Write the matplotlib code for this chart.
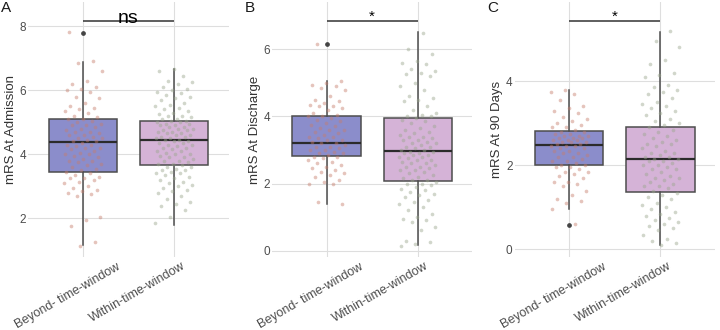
import numpy as np
import matplotlib
matplotlib.use("Agg")
import matplotlib.pyplot as plt
import matplotlib.transforms as mtransforms

plt.rcParams['font.family'] = ['Liberation Sans', 'DejaVu Sans']

groups = ["Beyond- time-window", "Within-time-window"]
ylabels = ["mRS At Admission", "mRS At Discharge", "mRS At 90 Days"]
letters = ["A", "B", "C"]
signif = ["ns", "*", "*"]
signif_y = [8.16, 6.84, 5.44]
yticks = [[2, 4, 6, 8], [0, 2, 4, 6], [0, 2, 4]]
ylims = [(0.795, 8.75), (-0.19, 7.41), (-0.18, 5.88)]

# box stats: q1, median, q3, whisker low, whisker high
box_beyond = [
    [3.46, 4.39, 5.09, 1.17, 6.88],
    [2.81, 3.21, 4.02, 1.38, 5.05],
    [2.00, 2.49, 2.81, 0.97, 3.79],
]
box_within = [
    [3.66, 4.44, 5.03, 1.79, 6.65],
    [2.08, 2.96, 3.95, 0.17, 6.52],
    [1.37, 2.14, 2.91, 0.10, 5.17],
]
fliers_beyond = [[7.77], [6.17], [0.59]]
fliers_within = [[], [], []]

A_beyond = [7.8, 6.9, 6.85, 6.6, 6.3, 6.2, 6.1, 6.05, 6.0, 5.95, 5.8, 5.75, 5.6, 5.5, 5.45,
            5.4, 5.35, 5.3, 5.2, 5.15, 5.1, 5.1, 5.05, 5.0, 4.95, 4.9, 4.9, 4.85, 4.8, 4.75,
            4.7, 4.7, 4.65, 4.6, 4.6, 4.55, 4.5, 4.5, 4.45, 4.4, 4.4, 4.35, 4.3, 4.3, 4.25,
            4.2, 4.2, 4.15, 4.1, 4.05, 4.0, 4.0, 3.95, 3.9, 3.85, 3.8, 3.8, 3.75, 3.7, 3.65,
            3.6, 3.55, 3.5, 3.45, 3.4, 3.35, 3.3, 3.25, 3.25, 3.2, 3.15, 3.1, 3.0, 2.95, 2.9,
            2.85, 2.8, 2.75, 2.7, 2.05, 1.95, 1.75, 1.25, 1.15]
A_within = [6.65, 6.6, 6.45, 6.3, 6.25, 6.2, 6.1, 6.05, 6.0, 5.95, 5.9, 5.85, 5.8, 5.75, 5.7,
            5.6, 5.55, 5.5, 5.45, 5.4, 5.35, 5.3, 5.25, 5.2, 5.2, 5.15, 5.1, 5.1, 5.05, 5.05,
            5.0, 5.0, 4.95, 4.95, 4.9, 4.9, 4.85, 4.85, 4.8, 4.8, 4.75, 4.75, 4.7, 4.7, 4.65,
            4.65, 4.6, 4.6, 4.55, 4.55, 4.5, 4.5, 4.45, 4.45, 4.4, 4.4, 4.35, 4.35, 4.3, 4.3,
            4.25, 4.2, 4.2, 4.15, 4.1, 4.1, 4.05, 4.0, 4.0, 3.95, 3.9, 3.9, 3.85, 3.8, 3.8,
            3.75, 3.7, 3.7, 3.65, 3.6, 3.6, 3.55, 3.5, 3.5, 3.45, 3.4, 3.4, 3.35, 3.3, 3.25,
            3.2, 3.15, 3.1, 3.05, 3.0, 2.95, 2.9, 2.85, 2.8, 2.7, 2.6, 2.5, 2.45, 2.4, 2.25,
            2.05, 1.85]
B_beyond = [6.15, 5.05, 5.0, 4.95, 4.9, 4.85, 4.8, 4.6, 4.5, 4.45, 4.4, 4.35, 4.3, 4.3, 4.25,
            4.2, 4.1, 4.05, 4.0, 4.0, 3.95, 3.9, 3.85, 3.8, 3.75, 3.7, 3.65, 3.6, 3.6, 3.55,
            3.5, 3.45, 3.4, 3.4, 3.35, 3.3, 3.3, 3.25, 3.2, 3.2, 3.15, 3.1, 3.1, 3.05, 3.0,
            3.0, 2.95, 2.9, 2.9, 2.85, 2.8, 2.8, 2.75, 2.7, 2.65, 2.6, 2.55, 2.5, 2.45, 2.4,
            2.35, 2.3, 2.25, 2.2, 2.1, 2.05, 2.0, 2.0, 1.45, 1.4]
B_within = [6.5, 6.0, 5.85, 5.65, 5.6, 5.55, 5.4, 5.35, 5.3, 5.25, 5.2, 5.0, 4.9, 4.8, 4.6,
            4.55, 4.5, 4.45, 4.3, 4.2, 4.1, 4.05, 4.0, 4.0, 3.95, 3.9, 3.85, 3.8, 3.7, 3.65,
            3.6, 3.55, 3.5, 3.45, 3.4, 3.4, 3.35, 3.3, 3.3, 3.25, 3.2, 3.2, 3.15, 3.1, 3.1,
            3.05, 3.0, 3.0, 2.95, 2.95, 2.9, 2.9, 2.85, 2.85, 2.8, 2.8, 2.75, 2.7, 2.7, 2.65,
            2.6, 2.6, 2.55, 2.5, 2.5, 2.45, 2.4, 2.4, 2.35, 2.3, 2.25, 2.2, 2.15, 2.1, 2.1,
            2.05, 2.0, 2.0, 1.95, 1.9, 1.85, 1.8, 1.75, 1.7, 1.65, 1.6, 1.5, 1.45, 1.4, 1.3,
            1.2, 1.1, 1.0, 0.95, 0.9, 0.85, 0.7, 0.6, 0.3, 0.25, 0.2, 0.15]
C_beyond = [3.8, 3.75, 3.7, 3.55, 3.4, 3.35, 3.3, 3.25, 3.15, 3.1, 3.05, 3.0, 2.95, 2.9, 2.9,
            2.85, 2.8, 2.8, 2.75, 2.75, 2.7, 2.7, 2.7, 2.65, 2.65, 2.65, 2.6, 2.6, 2.6, 2.55,
            2.55, 2.55, 2.5, 2.5, 2.45, 2.45, 2.45, 2.4, 2.4, 2.35, 2.35, 2.3, 2.3, 2.25, 2.2,
            2.2, 2.15, 2.1, 2.1, 2.05, 2.0, 2.0, 1.95, 1.95, 1.9, 1.85, 1.85, 1.8, 1.75, 1.7,
            1.6, 1.6, 1.55, 1.5, 1.4, 1.3, 1.2, 1.15, 1.1, 0.95, 0.6]
C_within = [5.2, 4.95, 4.8, 4.5, 4.4, 4.2, 4.15, 4.1, 3.9, 3.85, 3.8, 3.75, 3.7, 3.6, 3.5,
            3.45, 3.4, 3.35, 3.3, 3.25, 3.2, 3.1, 3.05, 3.0, 2.95, 2.9, 2.85, 2.8, 2.75, 2.7,
            2.65, 2.6, 2.55, 2.5, 2.5, 2.45, 2.4, 2.35, 2.3, 2.3, 2.25, 2.2, 2.2, 2.15, 2.15,
            2.1, 2.1, 2.05, 2.0, 2.0, 1.95, 1.9, 1.9, 1.85, 1.8, 1.75, 1.7, 1.7, 1.65, 1.6,
            1.55, 1.5, 1.5, 1.45, 1.4, 1.35, 1.3, 1.25, 1.2, 1.1, 1.05, 1.0, 0.95, 0.9, 0.85,
            0.8, 0.75, 0.7, 0.65, 0.6, 0.55, 0.5, 0.45, 0.35, 0.25, 0.2, 0.15, 0.1]

points = [(A_beyond, A_within), (B_beyond, B_within), (C_beyond, C_within)]

box_fills = ["#8b8dcb", "#d5b3d7"]
point_colors = ["#c67d6c", "#9aa68c"]
edge = "#4d4d4d"

fig = plt.figure(figsize=(7.2, 3.3), dpi=100)
lefts = [28.4, 272, 514.7]
width_px = 200.3
bottom = 1 - 257 / 330
height = 255 / 330
# pixel nudges of the rotated category labels (as they sit in the original)
label_dx = [33, 7]
label_dy = [-4, -3]


def jitter(n, shift):
    # deterministic spread of points across the box (golden ratio sequence)
    k = np.arange(n)
    return ((k * 0.6180339887 + shift) % 1.0 - 0.5) * 0.42


for i in range(3):
    ax = fig.add_axes([lefts[i] / 720, bottom, width_px / 720, height])
    stats = []
    for b, fl in ((box_beyond[i], fliers_beyond[i]), (box_within[i], fliers_within[i])):
        stats.append(dict(q1=b[0], med=b[1], q3=b[2], whislo=b[3], whishi=b[4], fliers=fl))
    bp = ax.bxp(stats, positions=[0, 1], widths=0.75, patch_artist=True, showcaps=False,
                boxprops=dict(edgecolor=edge, linewidth=1.1),
                medianprops=dict(color="#2b2b2b", linewidth=1.6),
                whiskerprops=dict(color=edge, linewidth=1.1),
                flierprops=dict(marker="o", markersize=2.4, markerfacecolor="#444444",
                                markeredgecolor="#444444"))
    for patch, c in zip(bp["boxes"], box_fills):
        patch.set_facecolor(c)
        patch.set_zorder(2)
    for j in range(2):
        vals = np.array(points[i][j])
        ax.scatter(j + jitter(len(vals), 0.13 * (i + 1) + 0.37 * j), vals, s=7,
                   color=point_colors[j], alpha=0.45, linewidths=0, zorder=4)

    # significance bracket
    ax.plot([0, 1], [signif_y[i], signif_y[i]], color="#333333", lw=1.1, zorder=5,
            solid_capstyle="butt")
    if signif[i] == "ns":
        ax.text(0.5, signif_y[i] - 0.066, "ns", ha="center", va="baseline", fontsize=14,
                color="black", zorder=6)
    else:
        ax.text(0.5, signif_y[i], "*", ha="center", va="baseline", fontsize=11,
                color="black", zorder=6)

    ax.set_xlim(-0.6, 1.6)
    ax.set_ylim(*ylims[i])
    ax.set_yticks(yticks[i])
    ax.set_xticks([0, 1])
    ax.set_xticklabels([])
    for j, g in enumerate(groups):
        tr = ax.get_xaxis_transform() + mtransforms.ScaledTranslation(
            label_dx[j] / 100, label_dy[j] / 100, fig.dpi_scale_trans)
        ax.text(j, 0, g, rotation=30, ha="right", va="top", rotation_mode="anchor",
                transform=tr, fontsize=9, color="#4d4d4d")
    ax.tick_params(axis="both", length=0, labelsize=8.5, labelcolor="#4d4d4d")
    ax.tick_params(axis="y", pad=1.5)
    ax.set_ylabel(ylabels[i], fontsize=9.5, color="#333333", labelpad=2)
    for s in ax.spines.values():
        s.set_visible(False)
    ax.grid(True, color="#dedede", linewidth=0.8)
    ax.set_axisbelow(True)
    fig.text((lefts[i] - 27) / 720, 1 - 1 / 330, letters[i],
             ha="left", va="top", fontsize=11, color="#1a1a1a")

fig.savefig("out.png", dpi=100)
